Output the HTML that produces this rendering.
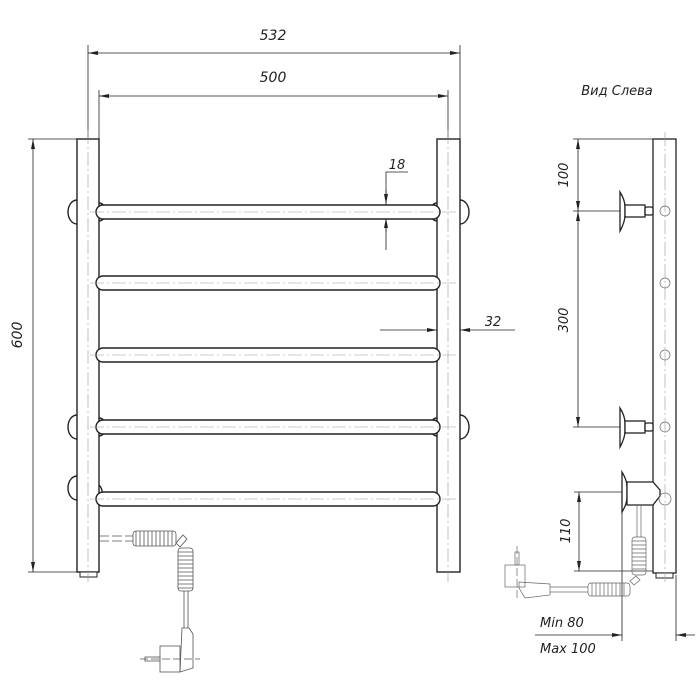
<!DOCTYPE html>
<html><head><meta charset="utf-8"><style>
html,body{margin:0;padding:0;background:#fff;}
svg{display:block;}
text{font-family:"DejaVu Sans","Liberation Sans",sans-serif;font-style:italic;fill:#222;}
</style></head><body>
<svg width="700" height="700" viewBox="0 0 700 700" xmlns="http://www.w3.org/2000/svg">
<defs>
<marker id="a" viewBox="0 0 10 4" refX="10" refY="2" markerWidth="12" markerHeight="4" markerUnits="userSpaceOnUse" orient="auto-start-reverse"><path d="M0,0 L10,2 L0,4 z" fill="#222"/></marker>
</defs>
<g stroke="#222" fill="none" stroke-width="0.8">
<line x1="88" y1="45" x2="88" y2="139"/><line x1="460" y1="45" x2="460" y2="139"/>
<line x1="88" y1="53" x2="460" y2="53" marker-start="url(#a)" marker-end="url(#a)"/>
<line x1="99" y1="90" x2="99" y2="139"/><line x1="448" y1="90" x2="448" y2="139"/>
<line x1="99" y1="96" x2="448" y2="96" marker-start="url(#a)" marker-end="url(#a)"/>
<line x1="28" y1="139" x2="77" y2="139"/><line x1="28" y1="572" x2="80" y2="572"/>
<line x1="33" y1="139" x2="33" y2="572" marker-start="url(#a)" marker-end="url(#a)"/>
<polyline points="408,172 386,172 386,250"/>
<line x1="386" y1="190" x2="386" y2="204" marker-end="url(#a)"/>
<line x1="386" y1="232" x2="386" y2="218" marker-end="url(#a)"/>
<line x1="380" y1="330" x2="437" y2="330" marker-end="url(#a)"/>
<line x1="515" y1="330" x2="460" y2="330" marker-end="url(#a)"/>
</g>
<g stroke="#222" fill="#fff" stroke-width="1.4">
<path d="M77,200 A9,12 0 0 0 77,224"/><path d="M77,415 A9,12 0 0 0 77,439"/><path d="M77,476 A9,12 0 0 0 77,500"/>
<path d="M460,200 A9,12 0 0 1 460,224"/><path d="M460,415 A9,12 0 0 1 460,439"/>
<path d="M99,203 A7,9 0 0 1 99,221"/><path d="M99,418 A7,9 0 0 1 99,436"/><path d="M99,485 A8,12 0 0 1 99,505"/>
<path d="M437,203 A7,9 0 0 0 437,221"/><path d="M437,418 A7,9 0 0 0 437,436"/>
<rect x="77" y="139" width="22" height="433"/>
<rect x="437" y="139" width="23" height="433"/>
<rect x="80" y="572" width="17" height="5" stroke-width="1"/>
<rect x="96" y="205" width="344" height="14" rx="7"/>
<rect x="96" y="276" width="344" height="14" rx="7"/>
<rect x="96" y="348" width="344" height="14" rx="7"/>
<rect x="96" y="420" width="344" height="14" rx="7"/>
<rect x="96" y="492" width="344" height="14" rx="7"/>
</g>
<g stroke="#555" fill="none" stroke-width="0.8">
<line x1="99" y1="536" x2="133" y2="536" stroke-dasharray="10,3"/><line x1="99" y1="541" x2="133" y2="541" stroke-dasharray="10,3"/>
<rect x="133" y="531" width="43" height="15" rx="3"/>
<path d="M136,531v15M140,531v15M144,531v15M148,531v15M152,531v15M156,531v15M160,531v15M164,531v15M168,531v15M172,531v15"/>
<path d="M176,543 L183,535 L187,539 L180,547 z"/>
<rect x="178" y="548" width="15" height="43" rx="3"/>
<path d="M178,552h15M178,556h15M178,560h15M178,564h15M178,568h15M178,572h15M178,576h15M178,580h15M178,584h15M178,588h15"/>
<line x1="184" y1="591" x2="184" y2="628"/><line x1="188" y1="591" x2="188" y2="628"/>
<path d="M182,628 h7 l4,6 v34 l-13,4 z"/>
<rect x="160" y="646" width="20" height="26"/>
<rect x="145" y="657" width="15" height="4"/>
<line x1="140" y1="659" x2="200" y2="659" stroke-dasharray="8,3"/>
</g>
<g stroke="#222" fill="none" stroke-width="0.8">
<line x1="573" y1="139" x2="653" y2="139"/><line x1="573" y1="211" x2="640" y2="211"/><line x1="573" y1="427" x2="640" y2="427"/>
<line x1="578" y1="139" x2="578" y2="211" marker-start="url(#a)" marker-end="url(#a)"/>
<line x1="578" y1="211" x2="578" y2="427" marker-start="url(#a)" marker-end="url(#a)"/>
<line x1="574" y1="492" x2="640" y2="492"/><line x1="574" y1="571" x2="653" y2="571"/>
<line x1="579" y1="492" x2="579" y2="571" marker-start="url(#a)" marker-end="url(#a)"/>
<line x1="622" y1="505" x2="622" y2="641"/><line x1="676" y1="575" x2="676" y2="641"/>
<line x1="535" y1="635" x2="622" y2="635" marker-end="url(#a)"/>
<line x1="695" y1="635" x2="676" y2="635" marker-end="url(#a)"/>
</g>
<g stroke="#222" fill="#fff" stroke-width="1.3">
<rect x="653" y="139" width="23" height="434"/>
<rect x="656" y="573" width="17" height="5" stroke-width="1"/>
<path d="M620,192 q5,8 5,15 v8 q0,7 -5,16 z"/>
<rect x="625" y="205" width="20" height="12"/><rect x="645" y="207" width="8" height="8" rx="2"/>
<path d="M620,408 q5,8 5,15 v8 q0,7 -5,16 z"/>
<rect x="625" y="421" width="20" height="12"/><rect x="645" y="423" width="8" height="8" rx="2"/>
<path d="M622,472 q5,8 5,15 v10 q0,7 -5,15 z"/>
<path d="M627,482 h26 l7,8 v6 l-7,9 h-26 z"/>
</g>
<g stroke="#666" fill="none" stroke-width="0.7">
<circle cx="665" cy="211" r="5"/><circle cx="665" cy="283" r="5"/><circle cx="665" cy="355" r="5"/><circle cx="665" cy="427" r="5"/><circle cx="665" cy="499" r="6"/>
<line x1="637" y1="505" x2="637" y2="537"/><line x1="641" y1="505" x2="641" y2="537"/>
<rect x="632" y="537" width="14" height="38" rx="3"/>
<path d="M632,541h14M632,545h14M632,549h14M632,553h14M632,557h14M632,561h14M632,565h14M632,569h14"/>
<path d="M630,581 L636,576 L640,580 L634,585 z"/>
<rect x="588" y="583" width="42" height="13" rx="3"/>
<path d="M592,583v13M596,583v13M600,583v13M604,583v13M608,583v13M612,583v13M616,583v13M620,583v13M624,583v13"/>
<line x1="550" y1="587" x2="588" y2="587"/><line x1="550" y1="592" x2="588" y2="592"/>
<path d="M550,584 v11 l-25,3 l-6,-10 v-6 z"/>
<rect x="505" y="565" width="20" height="22"/>
<rect x="515" y="552" width="4" height="13"/>
<line x1="517" y1="546" x2="517" y2="600" stroke-dasharray="8,3"/>
</g>
<!-- centerlines on top -->
<g stroke="#999" stroke-width="0.6" stroke-dasharray="14,3,2,3" fill="none">
<line x1="88" y1="130" x2="88" y2="582"/><line x1="448" y1="130" x2="448" y2="582"/>
<line x1="90" y1="212" x2="456" y2="212"/><line x1="90" y1="283" x2="456" y2="283"/>
<line x1="90" y1="355" x2="456" y2="355"/><line x1="90" y1="427" x2="456" y2="427"/>
<line x1="90" y1="499" x2="456" y2="499"/>
<line x1="665" y1="132" x2="665" y2="582"/>
</g>
<text x="273" y="40" font-size="14" text-anchor="middle">532</text>
<text x="273" y="82" font-size="14" text-anchor="middle">500</text>
<text x="397" y="169" font-size="13" text-anchor="middle">18</text>
<text x="493" y="326" font-size="13" text-anchor="middle">32</text>
<text transform="translate(22,335) rotate(-90)" font-size="14" text-anchor="middle">600</text>
<text x="617" y="95" font-size="13" text-anchor="middle">Вид Слева</text>
<text transform="translate(568,175) rotate(-90)" font-size="13" text-anchor="middle">100</text>
<text transform="translate(568,320) rotate(-90)" font-size="13" text-anchor="middle">300</text>
<text transform="translate(570,531) rotate(-90)" font-size="13" text-anchor="middle">110</text>
<text x="540" y="627" font-size="13">Min 80</text>
<text x="540" y="653" font-size="13">Max 100</text>
</svg>
</body></html>
